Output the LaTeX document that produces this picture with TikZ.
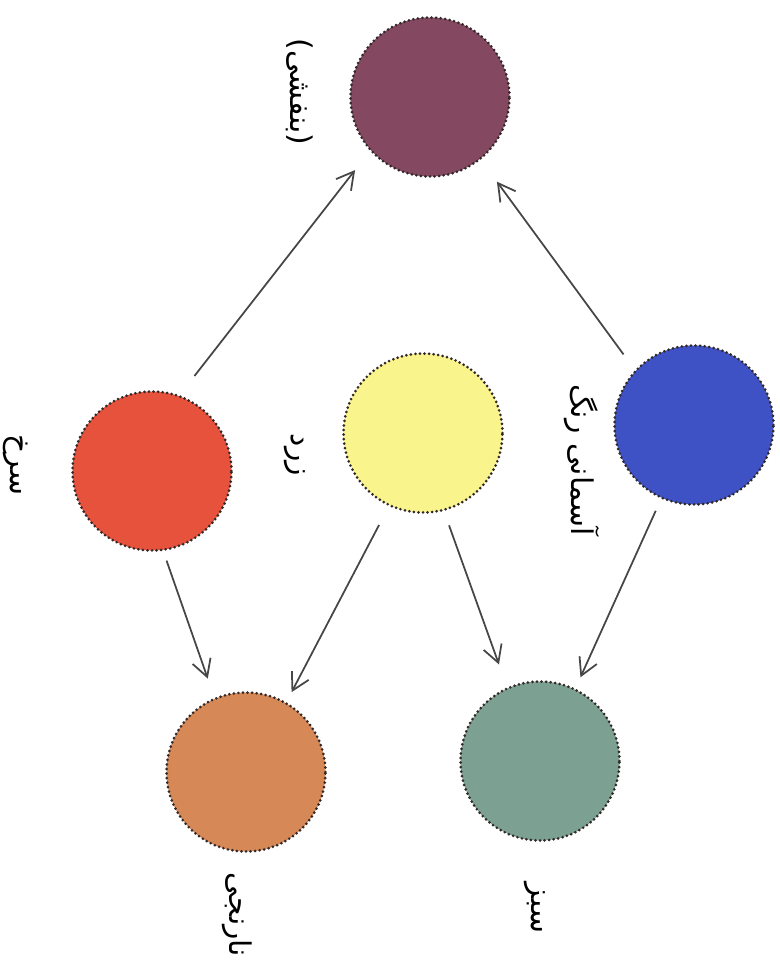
\documentclass[tikz,border=0pt]{standalone}
\usepackage{fontspec}
\usetikzlibrary{arrows.meta}
\TeXXeTstate=1
\newfontfamily\arabicfont[Script=Arabic]{DejaVu Sans}
\definecolor{cpurple}{RGB}{132,72,96}
\definecolor{cred}{RGB}{230,82,60}
\definecolor{cyellow}{RGB}{250,244,140}
\definecolor{cblue}{RGB}{62,82,198}
\definecolor{corange}{RGB}{214,136,86}
\definecolor{cgreen}{RGB}{124,160,145}
\definecolor{carrow}{RGB}{70,70,70}
\definecolor{cdot}{RGB}{50,40,40}
\tikzset{
  paint/.style={circle, minimum size=3.18cm, inner sep=0pt, draw=cdot, line width=1.7pt, line cap=round, dash pattern=on 0pt off 2.6pt},
  mix/.style={draw=carrow, line width=1pt, -{Straight Barb[length=3.4mm,width=3.8mm]}},
  lbl/.style={rotate=-90, font=\arabicfont\fontsize{17}{20}\selectfont, inner sep=0pt}
}
\begin{document}
\begin{tikzpicture}[x=0.02cm,y=-0.02cm]
\useasboundingbox (0,0) rectangle (780,963);
\node[paint, fill=cpurple] (purple) at (430,97) {};
\node[paint, fill=cred] (red) at (152,471) {};
\node[paint, fill=cyellow] (yellow) at (423,433) {};
\node[paint, fill=cblue] (blue) at (694,425) {};
\node[paint, fill=corange] (orange) at (246,772) {};
\node[paint, fill=cgreen] (green) at (540,761) {};

\node[lbl] (lpurple) at (300,92) {\beginR(بنفشی)\endR};
\node[lbl] (lred) at (16,465) {\beginR سرخ\endR};
\node[lbl] (lyellow) at (295,455) {\beginR زرد\endR};
\node[lbl] (lblue) at (582,460) {\beginR آسمانی رنگ\endR};
\node[lbl] (lorange) at (237,915) {\beginR نارنجی\endR};
\node[lbl] (lgreen) at (535,908) {\beginR سبز\endR};

\draw[mix, shorten <=0.48cm, shorten >=0.48cm] (red.70) -- (purple.222);
\draw[mix, shorten <=0.38cm, shorten >=0.54cm] (blue.137) -- (purple.309);
\draw[mix, shorten <=0.2cm, shorten >=0.4cm] (red.278) -- (orange.113);
\draw[mix, shorten <=0.42cm, shorten >=0.22cm] (yellow.245) -- (orange.60);
\draw[mix, shorten <=0.3cm, shorten >=0.48cm] (yellow.285) -- (green.114);
\draw[mix, shorten <=0.26cm, shorten >=0.24cm] (blue.246) -- (green.64);
\end{tikzpicture}
\end{document}
